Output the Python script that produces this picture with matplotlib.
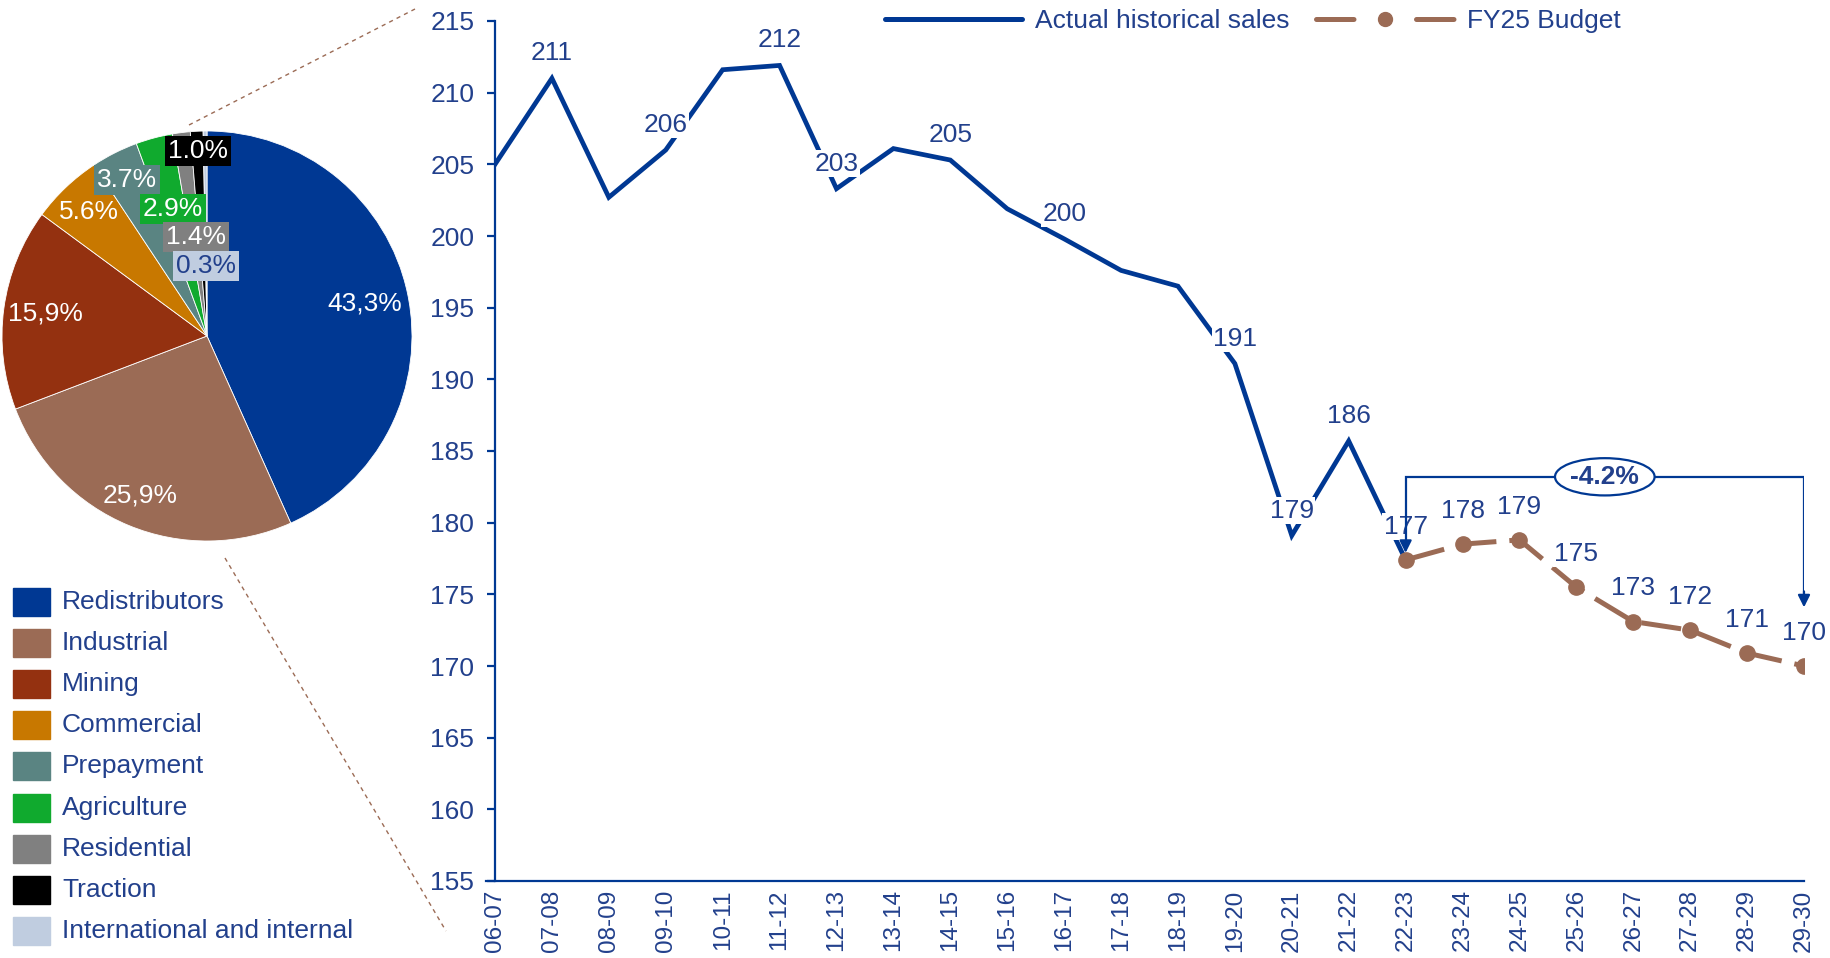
import matplotlib
matplotlib.use("Agg")
import matplotlib.pyplot as plt
from matplotlib.lines import Line2D
from matplotlib.patches import Ellipse, Rectangle
import numpy as np

plt.rcParams['font.family'] = ['Liberation Sans', 'DejaVu Sans']

# ---------------- data ----------------
years = ["06-07", "07-08", "08-09", "09-10", "10-11", "11-12", "12-13", "13-14",
         "14-15", "15-16", "16-17", "17-18", "18-19", "19-20", "20-21", "21-22",
         "22-23", "23-24", "24-25", "25-26", "26-27", "27-28", "28-29", "29-30"]
actual = [205.0, 211.0, 202.7, 206.0, 211.6, 211.9, 203.3, 206.1, 205.3, 201.9,
          199.8, 197.6, 196.5, 191.1, 179.1, 185.7, 177.4]
budget = [177.4, 178.5, 178.8, 175.5, 173.1, 172.5, 170.9, 170.0]
actual_labels = {1: "211", 3: "206", 5: "212", 6: "203", 8: "205", 10: "200",
                 13: "191", 14: "179", 15: "186"}
budget_labels = ["177", "178", "179", "175", "173", "172", "171", "170"]
series_names = ["Actual historical sales", "FY25 Budget"]
change_text = "-4.2%"
change_from, change_to = 177.8, 173.9
bracket_level = 183.2

segments = ["Redistributors", "Industrial", "Mining", "Commercial", "Prepayment",
            "Agriculture", "Residential", "Traction", "International and internal"]
shares = [43.3, 25.9, 15.9, 5.6, 3.7, 2.9, 1.4, 1.0, 0.3]
share_labels = ["43,3%", "25,9%", "15,9%", "5.6%", "3.7%", "2.9%", "1.4%", "1.0%", "0.3%"]
seg_colors = ["#003893", "#9B6B55", "#943110", "#C87800", "#5A8482",
              "#10AA2E", "#808080", "#000000", "#C0CDE0"]

BLUE = "#003893"
TXT = "#22408C"
BROWN = "#9B6B55"
FS = 19

W, H = 1831, 958
fig = plt.figure(figsize=(W / 100, H / 100), dpi=100)

# ---------------- line chart ----------------
ax = fig.add_axes([495 / W, 1 - 881 / H, (1804 - 495) / W, (881 - 21) / H])
x = np.arange(len(years))
xa = x[:len(actual)]
xb = x[len(actual) - 1:]
ax.plot(xa, actual, color=BLUE, lw=3.4, solid_joinstyle='miter', zorder=3)
ax.plot(xb, budget, color=BROWN, lw=3.6, dashes=(8, 2.6), marker='o', ms=11,
        markeredgecolor=BROWN, zorder=3)

ax.set_xlim(0, len(years) - 1)
ax.set_ylim(155, 215)
ax.set_yticks(np.arange(155, 216, 5))
ax.set_xticks(x)
ax.set_xticklabels(years, rotation=90)
ax.tick_params(axis='y', colors=BLUE, labelcolor=TXT, labelsize=FS, length=6, width=1.6, pad=9)
ax.tick_params(axis='x', colors=BLUE, labelcolor=TXT, labelsize=17.5, length=0, pad=6)
for s in ["top", "right"]:
    ax.spines[s].set_visible(False)
for s in ["left", "bottom"]:
    ax.spines[s].set_color(BLUE)
    ax.spines[s].set_linewidth(1.6)
ax.spines['bottom'].set_bounds(-0.15, len(years) - 1)
ax.spines['bottom'].set_clip_on(False)

bb = dict(boxstyle='square,pad=0.05', fc='white', ec='none')
for i, t in actual_labels.items():
    ax.annotate(t, (xa[i], actual[i]), xytext=(0, 18), textcoords='offset points',
                ha='center', va='center', fontsize=FS, color=TXT, bbox=bb, zorder=4)
for i, t in enumerate(budget_labels):
    ax.annotate(t, (xb[i], budget[i]), xytext=(0, 24), textcoords='offset points',
                ha='center', va='center', fontsize=FS, color=TXT, bbox=bb, zorder=4)

# bracket annotation
x0, x1 = xb[0], xb[-1]
ax.plot([x0, x0, x1, x1], [change_from + 0.5, bracket_level, bracket_level, change_to + 1.0],
        color=BLUE, lw=1.6, zorder=5, solid_joinstyle='miter')
ax.annotate("", xy=(x0, change_from - 0.1), xytext=(x0, change_from + 0.8),
            arrowprops=dict(arrowstyle='-|>', color=BLUE, lw=1.6, mutation_scale=18), zorder=5)
ax.annotate("", xy=(x1, change_to), xytext=(x1, change_to + 1.5),
            arrowprops=dict(arrowstyle='-|>', color=BLUE, lw=1.6, mutation_scale=18), zorder=5)
xm = x[len(actual) - 1] + 3.5
ax.add_patch(Ellipse((xm, bracket_level), 1.75, 2.6, fc='white', ec=BLUE, lw=1.6, zorder=6))
ax.text(xm, bracket_level, change_text, ha='center', va='center', fontsize=19,
        fontweight='bold', color=TXT, zorder=7)

handles = [Line2D([], [], color=BLUE, lw=3.6, solid_capstyle='round'),
           Line2D([], [], color=BROWN, lw=3.6, dashes=(7.5, 12.5), dash_capstyle='round',
                  marker='o', ms=10, markeredgecolor=BROWN)]
leg = ax.legend(handles, series_names, loc='center left', bbox_to_anchor=(0.298, 1.0),
                ncol=2, frameon=False, fontsize=FS, labelcolor=TXT, handlelength=5.2,
                columnspacing=1.0, handletextpad=0.5, numpoints=1, borderpad=0,
                borderaxespad=0)

# ---------------- pie ----------------
cx, cy, r = 207, 336, 205
pax = fig.add_axes([(cx - r) / W, 1 - (cy + r) / H, 2 * r / W, 2 * r / H])
wedges, _ = pax.pie(shares, colors=seg_colors, startangle=90, counterclock=False,
                    wedgeprops=dict(lw=0.6, ec='white'), radius=1.0)
pax.set_xlim(-1, 1)
pax.set_ylim(-1, 1)
pax.set_aspect('equal')

# label positions in pixel coordinates (figure)
label_px = [(365, 303), (140, 495), (45, 314), (89, 212), (127, 180),
            (173, 209), (196, 237), (198, 151), (206, 266)]
label_bg = [None, None, None, None, "#5A8482", "#10AA2E", "#808080", "#000000", "#C0CDE0"]
label_fc = ["white"] * 8 + [TXT]
for (px, py), t, bg, fc in zip(label_px, share_labels, label_bg, label_fc):
    kw = {}
    if bg:
        kw['bbox'] = dict(boxstyle='square,pad=0.1', fc=bg, ec='none')
    fig.text(px / W, 1 - py / H, t, ha='center', va='center', fontsize=FS, color=fc, **kw)

# dashed connector lines
for (xa0, ya0), (xa1, ya1) in [((189, 125), (415, 9)), ((225, 558), (446, 931))]:
    fig.add_artist(Line2D([xa0 / W, xa1 / W], [1 - ya0 / H, 1 - ya1 / H], color=BROWN,
                          lw=1.0, dashes=(3, 3)))

# ---------------- left legend ----------------
for k, (name, col) in enumerate(zip(segments, seg_colors)):
    yc = 602 + k * 41.1
    fig.add_artist(Rectangle((13 / W, 1 - (yc + 14) / H), 37 / W, 28 / H, color=col,
                             transform=fig.transFigure))
    fig.text(62 / W, 1 - yc / H, name, ha='left', va='center', fontsize=FS, color=TXT)

fig.savefig("out.png", dpi=100)
